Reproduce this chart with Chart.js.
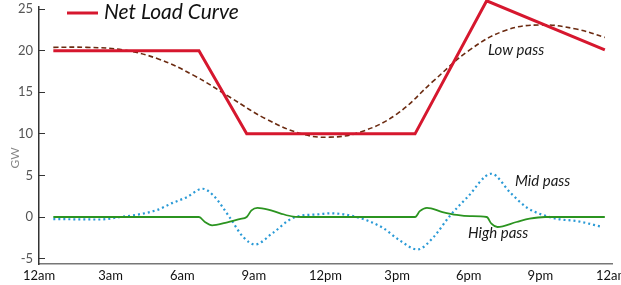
<!DOCTYPE html>
<html>
<head>
<meta charset="utf-8">
<script src="https://cdn.jsdelivr.net/npm/chart.js@4"></script>
<style>
  body { margin: 0; background: #fff; }
  #wrap { width: 621px; height: 285px; }
</style>
</head>
<body>
<div id="wrap"><canvas id="loadChart" width="621" height="285"></canvas></div>
<script>
// x values are hours after midnight
const hourTicks = ["12am", "3am", "6am", "9am", "12pm", "3pm", "6pm", "9pm", "12am"];

const netHours = [0.6, 6.7, 8.7, 15.75, 18.75, 23.7];
const netLoad = [20, 20, 10, 10, 26, 20.1];

const lowHours = [0.6, 2.0, 3.5, 5.0, 6.5, 8.0, 9.5, 11.0, 12.2, 13.5, 15.0, 16.5, 18.0, 19.5, 21.0, 22.5, 23.7];
const lowPass = [20.4, 20.4, 20.1, 19.0, 17.0, 14.4, 11.8, 10.0, 9.6, 10.25, 12.4, 16.3, 20.0, 22.4, 23.1, 22.6, 21.6];

const midHours = [0.6, 2.55, 3.4, 4.25, 4.95, 5.6, 6.2, 6.85, 7.3, 8.0, 8.55, 9.05, 9.8, 10.65, 11.8, 12.2, 13.3, 14.4, 15.1, 15.85, 16.5, 17.2, 17.95, 18.95, 19.75, 20.45, 21.1, 21.75, 22.55, 23.6];
const midPass = [-0.25, -0.3, 0, 0.35, 0.85, 1.7, 2.4, 3.4, 2.6, -0.1, -2.4, -3.3, -1.9, -0.1, 0.35, 0.45, 0, -1.3, -2.8, -3.9, -2.5, 0.1, 2.4, 5.2, 2.9, 1.1, 0.25, -0.25, -0.5, -1.2];

const highHours = [0.6, 6.7, 6.95, 7.25, 7.8, 8.4, 8.7, 8.9, 9.15, 9.6, 10.1, 10.65, 11.15, 15.75, 15.95, 16.25, 16.9, 17.5, 18.05, 18.75, 18.95, 19.2, 20.0, 20.55, 21.2, 23.7];
const highPass = [0, 0, -0.6, -1.0, -0.7, -0.25, 0, 0.8, 1.1, 0.9, 0.45, 0.05, 0, 0, 0.7, 1.1, 0.6, 0.25, 0.1, 0, -0.8, -1.2, -0.6, -0.2, 0, 0];

function toPoints(xs, ys) {
  return xs.map((x, i) => ({ x: x, y: ys[i] }));
}

const FONT = "Lato";

// legend + curve notes + axis title
const notesPlugin = {
  id: "notes",
  afterDraw(chart) {
    const ctx = chart.ctx;
    ctx.save();
    // legend
    ctx.strokeStyle = "#d6172e";
    ctx.lineWidth = 3;
    ctx.beginPath();
    ctx.moveTo(67, 13);
    ctx.lineTo(98, 13);
    ctx.stroke();
    ctx.fillStyle = "#111";
    ctx.textBaseline = "middle";
    ctx.font = "italic 21px " + FONT;
    ctx.fillText("Net Load Curve", 104, 12);

    ctx.font = "italic 15px " + FONT;
    ctx.fillStyle = "#1a1a1a";
    ctx.fillText("Low pass", 488, 50);
    ctx.fillText("Mid pass", 515, 181);
    ctx.fillText("High pass", 468, 233);

    // y axis title
    ctx.translate(15, 158);
    ctx.rotate(-Math.PI / 2);
    ctx.textAlign = "center";
    ctx.font = "12px " + FONT;
    ctx.fillStyle = "#888";
    ctx.fillText("GW", 0, 0);
    ctx.restore();
  },
};

const ctx = document.getElementById("loadChart");
new Chart(ctx, {
  type: "line",
  data: {
    datasets: [
      {
        label: "Net Load Curve",
        data: toPoints(netHours, netLoad),
        borderColor: "#d6172e",
        borderWidth: 3,
        tension: 0,
        pointRadius: 0,
        clip: false,
        order: 0,
      },
      {
        label: "Low pass",
        data: toPoints(lowHours, lowPass),
        borderColor: "#6b2a10",
        borderWidth: 1.6,
        borderDash: [5, 3],
        tension: 0.4,
        pointRadius: 0,
        order: 1,
      },
      {
        label: "Mid pass",
        data: toPoints(midHours, midPass),
        borderColor: "#2a9ad6",
        borderWidth: 2.2,
        borderDash: [2, 3],
        cubicInterpolationMode: "monotone",
        pointRadius: 0,
        order: 3,
      },
      {
        label: "High pass",
        data: toPoints(highHours, highPass),
        borderColor: "#2b9420",
        borderWidth: 1.8,
        cubicInterpolationMode: "monotone",
        pointRadius: 0,
        order: 2,
      },
    ],
  },
  options: {
    responsive: false,
    animation: false,
    layout: { padding: { left: 0, top: 7, right: 9, bottom: 0 } },
    plugins: {
      legend: { display: false },
      tooltip: { enabled: false },
    },
    scales: {
      x: {
        type: "linear",
        min: 0,
        max: 24,
        grid: { display: true, drawOnChartArea: false, drawTicks: false },
        border: { color: "#777", width: 1.5 },
        ticks: {
          stepSize: 3,
          padding: 4,
          maxRotation: 0,
          autoSkip: false,
          color: "#111",
          font: { family: FONT, size: 13 },
          callback: (value) => hourTicks[value / 3],
        },
        afterFit(scale) {
          scale.height = 21;
          scale.paddingLeft = 0;
          scale.paddingRight = 0;
        },
      },
      y: {
        min: -5.65,
        max: 25.25,
        grid: { drawOnChartArea: false, tickLength: -6, color: "#333" },
        border: { color: "#333", width: 1.5 },
        ticks: {
          stepSize: 5,
          includeBounds: false,
          padding: 12,
          color: "#555",
          font: { family: FONT, size: 13 },
        },
        afterFit(scale) {
          scale.width = 39;
          scale.paddingTop = 0;
          scale.paddingBottom = 0;
        },
      },
    },
  },
  plugins: [notesPlugin],
});
</script>
</body>
</html>
